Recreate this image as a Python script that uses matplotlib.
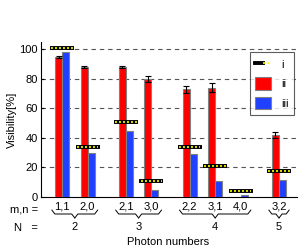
import numpy as np
import matplotlib
matplotlib.use("Agg")
import matplotlib.pyplot as plt
from matplotlib.lines import Line2D
from matplotlib.patches import Patch
from matplotlib.legend_handler import HandlerTuple
import matplotlib.transforms as mtransforms

plt.rcParams['font.family'] = ['Liberation Sans', 'DejaVu Sans']

labels = ["1,1", "2,0", "2,1", "3,0", "2,2", "3,1", "4,0", "3,2"]
positions = [1, 2, 3.5, 4.5, 6, 7, 8, 9.5]
vis_i = [101, 34, 51, 11, 34, 21, 4, 17.5]
vis_ii = [95, 88, 88, 80, 73, 74, np.nan, 42]
err_ii = [0.5, 0.5, 0.8, 2, 2.5, 3, np.nan, 2]
vis_iii = [98, 30, 45, 5, 29, 11, 1.5, 11.5]
groups_N = ["2", "3", "4", "5"]
group_members = [(0, 1), (2, 3), (4, 6), (7, 7)]

fig = plt.figure(figsize=(3.07, 2.5), dpi=100)
ax = fig.add_axes([0.1326, 0.212, 0.8344, 0.62])

w = 0.275
pos = np.array(positions)
ax.bar(pos - w / 2, vis_ii, width=w, color='#ff0000', edgecolor='#808080', lw=0.8, zorder=3)
ax.bar(pos + w / 2, vis_iii, width=w, color='#2040ff', edgecolor='#808080', lw=0.8, zorder=3)
ax.errorbar(pos - w / 2, vis_ii, yerr=err_ii, fmt='none', ecolor='black', elinewidth=0.8,
            capsize=2, capthick=0.8, zorder=4)

hw = 0.47
ax.hlines(vis_i, pos - hw, pos + hw, colors='black', lw=2.8, zorder=5)
ax.hlines(vis_i, pos - hw + 0.05, pos + hw - 0.05, colors='#ffff00', lw=1.2,
          linestyles=(0, (1.2, 1.2)), zorder=6)

ax.set_xlim(0.165, 10.2)
ax.set_ylim(0, 105)
ax.set_yticks([0, 20, 40, 60, 80, 100])
for y in [20, 40, 60, 80, 100]:
    ax.axhline(y, color='#555555', lw=0.8, ls=(0, (4, 3.5)), zorder=1)
ax.set_xticks(positions)
ax.set_xticklabels(labels, fontsize=8)
ax.tick_params(axis='x', length=0, pad=3)
ax.tick_params(axis='y', direction='in', length=2.5, labelsize=8, pad=2)
for s in ['top', 'right']:
    ax.spines[s].set_visible(False)
ax.set_ylabel("Visibility[%]", fontsize=8, labelpad=2)
fig.text(168 / 307, 1 - 242 / 250, "Photon numbers", ha='center', va='center', fontsize=8)

trans = mtransforms.blended_transform_factory(ax.transData, ax.transAxes)
def ay(px_below):
    return -px_below / 155.0

for (a, b), n in zip(group_members, groups_N):
    x0 = positions[a] - 0.4
    x1 = positions[b] + 0.4
    xm = (x0 + x1) / 2
    ytop = ay(13)
    ymid = ay(17)
    ybot = ay(21)
    r = 0.12
    ax.plot([x0, x0 + r, xm - r, xm], [ytop, ymid, ymid, ybot], color='black', lw=0.7,
            transform=trans, clip_on=False, solid_capstyle='round')
    ax.plot([xm, xm + r, x1 - r, x1], [ybot, ymid, ymid, ytop], color='black', lw=0.7,
            transform=trans, clip_on=False, solid_capstyle='round')
    ax.text(xm, ay(30), n, transform=trans, ha='center', va='center', fontsize=8)

fig.text(24 / 307, 1 - 209 / 250, "m,n =", ha='center', va='center', fontsize=8)
fig.text(26 / 307, 1 - 228 / 250, "N   =", ha='center', va='center', fontsize=8)

h_i = (Line2D([], [], color='black', lw=2.8),
       Line2D([], [], color='#ffff00', lw=1.2, ls=(0, (1.2, 1.2))))
h_ii = Patch(facecolor='#ff0000', edgecolor='#808080', lw=0.8)
h_iii = Patch(facecolor='#2040ff', edgecolor='#808080', lw=0.8)
leg = ax.legend([h_i, h_ii, h_iii], ["i", "ii", "iii"],
                handler_map={tuple: HandlerTuple(ndivide=None, pad=0)},
                loc='upper left', bbox_to_anchor=((250 - 40.7) / 256.3, (197 - 52) / 155.0),
                fontsize=8, handlelength=1.4, handleheight=1.4, labelspacing=0.6,
                handletextpad=0.9, borderpad=0.5, frameon=True, fancybox=False,
                borderaxespad=0)
leg.get_frame().set_edgecolor('#333333')
leg.get_frame().set_linewidth(0.8)
leg.set_zorder(10)

fig.savefig("out.png", dpi=100)
